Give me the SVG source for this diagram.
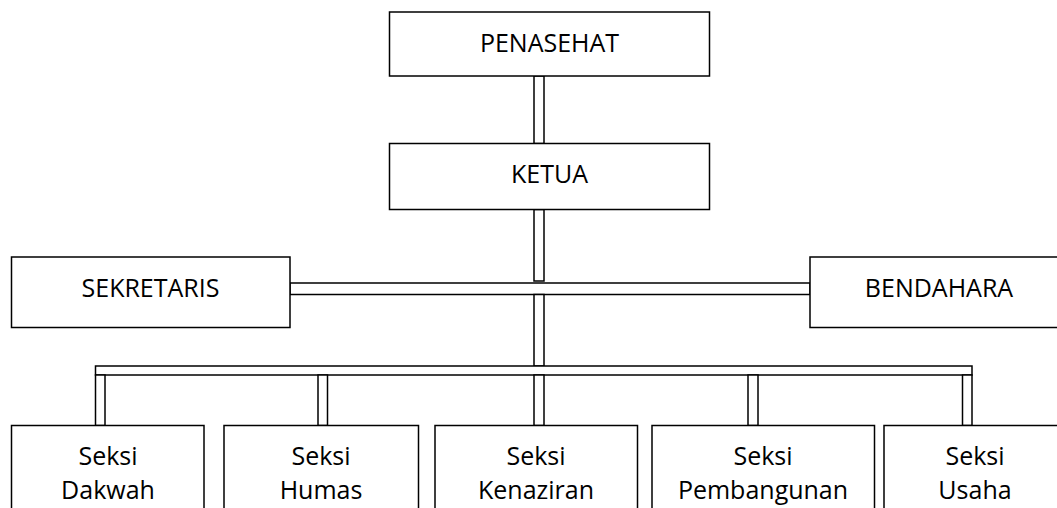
<svg xmlns="http://www.w3.org/2000/svg" width="1057" height="508" viewBox="0 0 1057 508">
<style>
.box{fill:#fff;stroke:#000;stroke-width:1.5}
.con{fill:#fff;stroke:#000;stroke-width:1.5}
.t{font-family:"Open Sans","Liberation Sans",sans-serif;font-size:25px;fill:#000;text-anchor:middle}
</style>
<rect width="1057" height="508" fill="#fff"/>
<g id="connectors">
<rect class="con" x="534" y="76" width="10" height="67.5"/>
<rect class="con" x="534" y="209.5" width="10" height="71.5"/>
<rect class="con" x="290" y="283" width="520" height="11.5"/>
<rect class="con" x="534" y="294.5" width="10" height="71.5"/>
<rect class="con" x="95.5" y="366" width="876.5" height="9"/>
<rect class="con" x="95.5" y="375" width="9.5" height="50.5"/>
<rect class="con" x="318" y="375" width="9.5" height="50.5"/>
<rect class="con" x="534" y="375" width="10" height="50.5"/>
<rect class="con" x="748" y="375" width="10" height="50.5"/>
<rect class="con" x="962.5" y="375" width="9.5" height="50.5"/>
</g>
<g id="penasehat">
<rect class="box" x="389.5" y="12" width="320" height="64"/>
<text class="t" x="549.5" y="52">PENASEHAT</text>
</g>
<g id="ketua">
<rect class="box" x="389.5" y="143.5" width="320" height="66"/>
<text class="t" x="549.5" y="183">KETUA</text>
</g>
<g id="sekretaris">
<rect class="box" x="11.5" y="257" width="278.5" height="70.5"/>
<text class="t" x="150.5" y="296.5">SEKRETARIS</text>
</g>
<g id="bendahara">
<rect class="box" x="810" y="257" width="258" height="70.5"/>
<text class="t" x="939" y="296.5">BENDAHARA</text>
</g>
<g id="seksi-dakwah">
<rect class="box" x="11.5" y="425.5" width="192.5" height="120"/>
<text class="t" x="108" y="464.5">Seksi</text>
<text class="t" x="108" y="499">Dakwah</text>
</g>
<g id="seksi-humas">
<rect class="box" x="224" y="425.5" width="194.5" height="120"/>
<text class="t" x="321" y="464.5">Seksi</text>
<text class="t" x="321" y="499">Humas</text>
</g>
<g id="seksi-kenaziran">
<rect class="box" x="435" y="425.5" width="202.5" height="120"/>
<text class="t" x="536" y="464.5">Seksi</text>
<text class="t" x="536" y="499">Kenaziran</text>
</g>
<g id="seksi-pembangunan">
<rect class="box" x="652" y="425.5" width="222.5" height="120"/>
<text class="t" x="763" y="464.5">Seksi</text>
<text class="t" x="763" y="499">Pembangunan</text>
</g>
<g id="seksi-usaha">
<rect class="box" x="884" y="425.5" width="182" height="120"/>
<text class="t" x="975" y="464.5">Seksi</text>
<text class="t" x="975" y="499">Usaha</text>
</g>
</svg>
